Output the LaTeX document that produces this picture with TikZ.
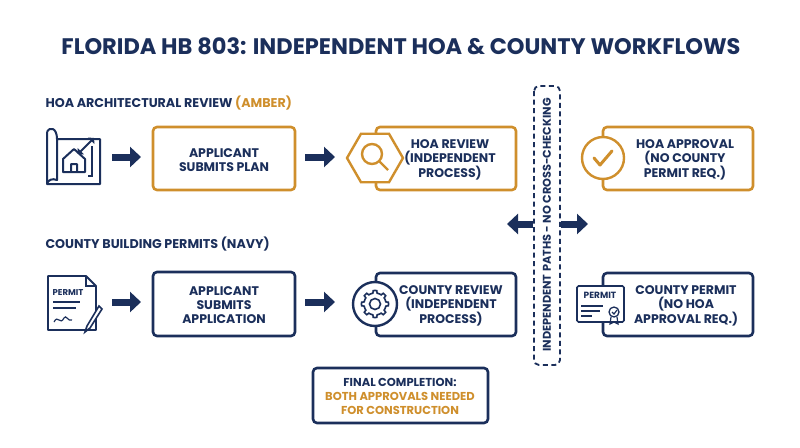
\documentclass[tikz,border=0pt]{standalone}
\usepackage{fontspec}
\setmainfont{Poppins}
\usetikzlibrary{shapes.geometric,arrows.meta}
\definecolor{navy}{HTML}{1B2F5B}
\definecolor{amber}{HTML}{CF8F2C}
\begin{document}
\begin{tikzpicture}[x=1pt,y=-1pt,
 box/.style={draw=#1,line width=2.6pt,rounded corners=4pt,fill=white},
 txt/.style={font=\bfseries\fontsize{12.5}{14}\selectfont,text=navy,align=center},
 fat/.style={navy,line width=7pt,-{Triangle[length=11pt,width=20pt]}}]
\useasboundingbox (0,0) rectangle (800,447);
\node[font=\bfseries\fontsize{22.5}{24}\selectfont,text=navy] (title) at (401,46) {FLORIDA HB 803: INDEPENDENT HOA \& COUNTY WORKFLOWS};
\node[anchor=west,font=\bfseries\fontsize{12.7}{14}\selectfont,text=navy] (hoalab) at (42,103) {HOA ARCHITECTURAL REVIEW \textcolor{amber}{(AMBER)}};
\node[anchor=west,font=\bfseries\fontsize{12.7}{14}\selectfont,text=navy] (coulab) at (42,244) {COUNTY BUILDING PERMITS \textcolor{navy}{(NAVY)}};
% HOA row
\draw[box=amber] (153,127) rectangle (295,190);
\node[txt] (b1) at (224,160) {APPLICANT\\SUBMITS PLAN};
\draw[box=amber] (376,127) rectangle (516,190);
\node[txt] (b2) at (450,160) {HOA REVIEW\\(INDEPENDENT\\PROCESS)};
\node[regular polygon,regular polygon sides=6,minimum size=56pt,draw=amber,line width=2.4pt,fill=white] (hex) at (375,158) {};
\draw[amber,line width=2.4pt] (372,154) circle (10) (379,161)--(388,170);
\draw[box=amber] (603,127) rectangle (753,190);
\node[txt] (b3) at (685,160) {HOA APPROVAL\\(NO COUNTY\\PERMIT REQ.)};
\node[circle,draw=amber,line width=2.4pt,fill=white,minimum size=42pt] (chk) at (603,158) {};
\draw[amber,line width=3pt,line cap=round,line join=round] (594,158)--(600,165)--(612,151);
% blueprint icon
\draw[navy,line width=2pt,line join=round] (47,132) -- (47,184) -- (100,184) -- (100,139) -- (57,139) (47,132) .. controls (50,126) and (57,128) .. (57,139) -- (57,180) .. controls (52,178) and (48,180) .. (47,184);
\draw[navy,line width=2pt,line join=round] (63,172)--(63,159)--(74,149)--(85,159)--(85,172)--cycle (71,172)--(71,164)--(77,164)--(77,172);
\draw[navy,line width=1.8pt,{Triangle[length=4pt]}-{Triangle[length=4pt]}] (78,154)--(94,138);
\draw[navy,line width=1.5pt] (92,146)--(92,176)--(88,176);
\draw[fat] (112,157) -- (141,157);
\draw[fat] (305,157) -- (335,157);
% County row
\draw[box=navy] (153,272) rectangle (295,336);
\node[txt] (c1) at (224,305) {APPLICANT\\SUBMITS\\APPLICATION};
\draw[box=navy] (376,273) rectangle (516,336);
\node[txt] (c2) at (451,306) {COUNTY REVIEW\\(INDEPENDENT\\PROCESS)};
\node[circle,draw=navy,line width=2.4pt,fill=white,minimum size=44pt] (gear) at (375,304) {};
\draw[navy,line width=1.6pt] (375,304) circle (5.5);
\draw[navy,line width=1.6pt] plot[domain=0:360,samples=97,smooth] ({375+(11+2.5*(cos(8*\x)>0.3?1:0))*cos(\x)},{304+(11+2.5*(cos(8*\x)>0.3?1:0))*sin(\x)});
\draw[box=navy] (603,273) rectangle (753,336);
\node[txt] (c3) at (686,306) {COUNTY PERMIT\\(NO HOA\\APPROVAL REQ.)};
\draw[navy,line width=1.6pt,fill=white,rounded corners=1.5pt] (577,286) rectangle (624,322);
\node[font=\bfseries\fontsize{9}{9}\selectfont,text=navy] (pm2) at (600,295) {PERMIT};
\draw[navy,line width=1.2pt] (581,306)--(603,306) (581,311)--(600,311) (581,316)--(592,316);
\draw[navy,line width=1.3pt,fill=white] (614,312) circle (5);
\draw[navy,line width=1.2pt] (612,312)--(614,314)--(617,310) (611,317)--(610,324)--(614,322)--(618,324)--(617,317);
% permit icon left
\draw[navy,line width=1.8pt,fill=white,line join=round] (48,276)--(86,276)--(96,286)--(96,330)--(48,330)--cycle;
\draw[navy,line width=1.5pt] (86,276)--(86,286)--(96,286);
\node[font=\bfseries\fontsize{8.5}{9}\selectfont,text=navy] (pm1) at (68,293) {PERMIT};
\draw[navy,line width=1.2pt] (53,302)--(80,302) (53,308)--(76,308);
\draw[navy,line width=1.2pt] (54,322) .. controls (58,314) and (60,326) .. (64,318) .. controls (66,314) and (68,322) .. (72,320);
\draw[navy,line width=1.6pt,fill=white] (99,306)--(87,326)--(85,332)--(90,328)--(102,309)--cycle;
\draw[fat] (112,302) -- (141,302);
\draw[fat] (305,302) -- (335,302);
% divider
\draw[navy,line width=1.8pt,dash pattern=on 5pt off 3.5pt,rounded corners=5pt,fill=white] (534,86) rectangle (560,365);
\node[rotate=90,font=\bfseries\fontsize{11.3}{12}\selectfont,text=navy] (div) at (547,225) {INDEPENDENT PATHS - NO CROSS-CHECKING};
\draw[fat] (533,224) -- (507,224);
\draw[fat] (561,224) -- (588,224);
% final
\draw[box=navy] (313,368) rectangle (488,423);
\node[font=\bfseries\fontsize{11.5}{14}\selectfont,text=navy,align=center] (fin) at (400,396) {FINAL COMPLETION:\\\textcolor{amber}{BOTH APPROVALS NEEDED}\\\textcolor{amber}{FOR CONSTRUCTION}};
\end{tikzpicture}
\end{document}
